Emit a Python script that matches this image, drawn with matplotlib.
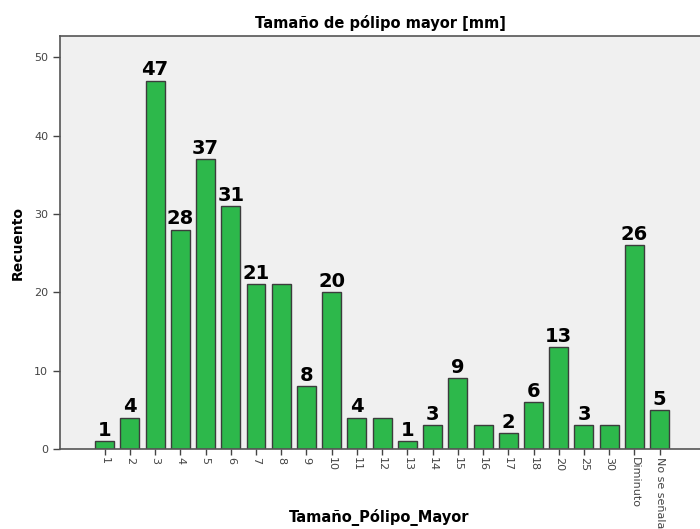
import matplotlib.pyplot as plt
import numpy as np

categories = ["1", "2", "3", "4", "5", "6", "7", "8", "9", "10", "11", "12", "13",
              "14", "15", "16", "17", "18", "20", "25", "30", "Diminuto", "No se señala"]
counts = [1, 4, 47, 28, 37, 31, 21, 21, 8, 20, 4, 4, 1, 3, 9, 3, 2, 6, 13, 3, 3, 26, 5]
# labels the original chart actually prints above bars (some hidden)
shown = [True, True, True, True, True, True, True, False, True, True, True, False, True,
         True, True, False, True, True, True, True, False, True, True]

fig = plt.figure(figsize=(7, 5.29), dpi=100)
ax = fig.add_axes([60 / 700, 1 - 449 / 529, 640 / 700, 413 / 529])
ax.set_facecolor("#f0f0f0")

x = np.arange(len(categories))
bars = ax.bar(x, counts, width=0.75, color="#2db84b", edgecolor="#3c3c3c", linewidth=1.0, zorder=2)

for b, v, s in zip(bars, counts, shown):
    if s:
        ax.text(b.get_x() + b.get_width() / 2, v + 0.15, str(v), ha="center", va="bottom",
                fontsize=14, fontweight="bold", color="black")

ax.set_xlim(-1.77, 23.6)
ax.set_ylim(0, 52.7)
ax.set_yticks([0, 10, 20, 30, 40, 50])
ax.tick_params(axis="y", labelsize=8, colors="#444444", length=5, width=1)
ax.set_xticks(x)
ax.set_xticklabels(categories, rotation=270, fontsize=8, color="#444444")
ax.tick_params(axis="x", length=4, width=1, colors="#444444", pad=2)

for side in ["left", "top", "bottom"]:
    ax.spines[side].set_color("#555555")
    ax.spines[side].set_linewidth(1.2)
ax.spines["right"].set_visible(False)

ax.set_title("Tamaño de pólipo mayor [mm]", fontsize=10.5, fontweight="bold", pad=6)
fig.text(379 / 700, 1 - 518 / 529, "Tamaño_Pólipo_Mayor", fontsize=10.5, fontweight="bold",
         ha="center", va="center")
fig.text(18 / 700, 1 - 243 / 529, "Recuento", fontsize=10, fontweight="bold",
         ha="center", va="center", rotation=90)

fig.savefig("out.png", dpi=100)
